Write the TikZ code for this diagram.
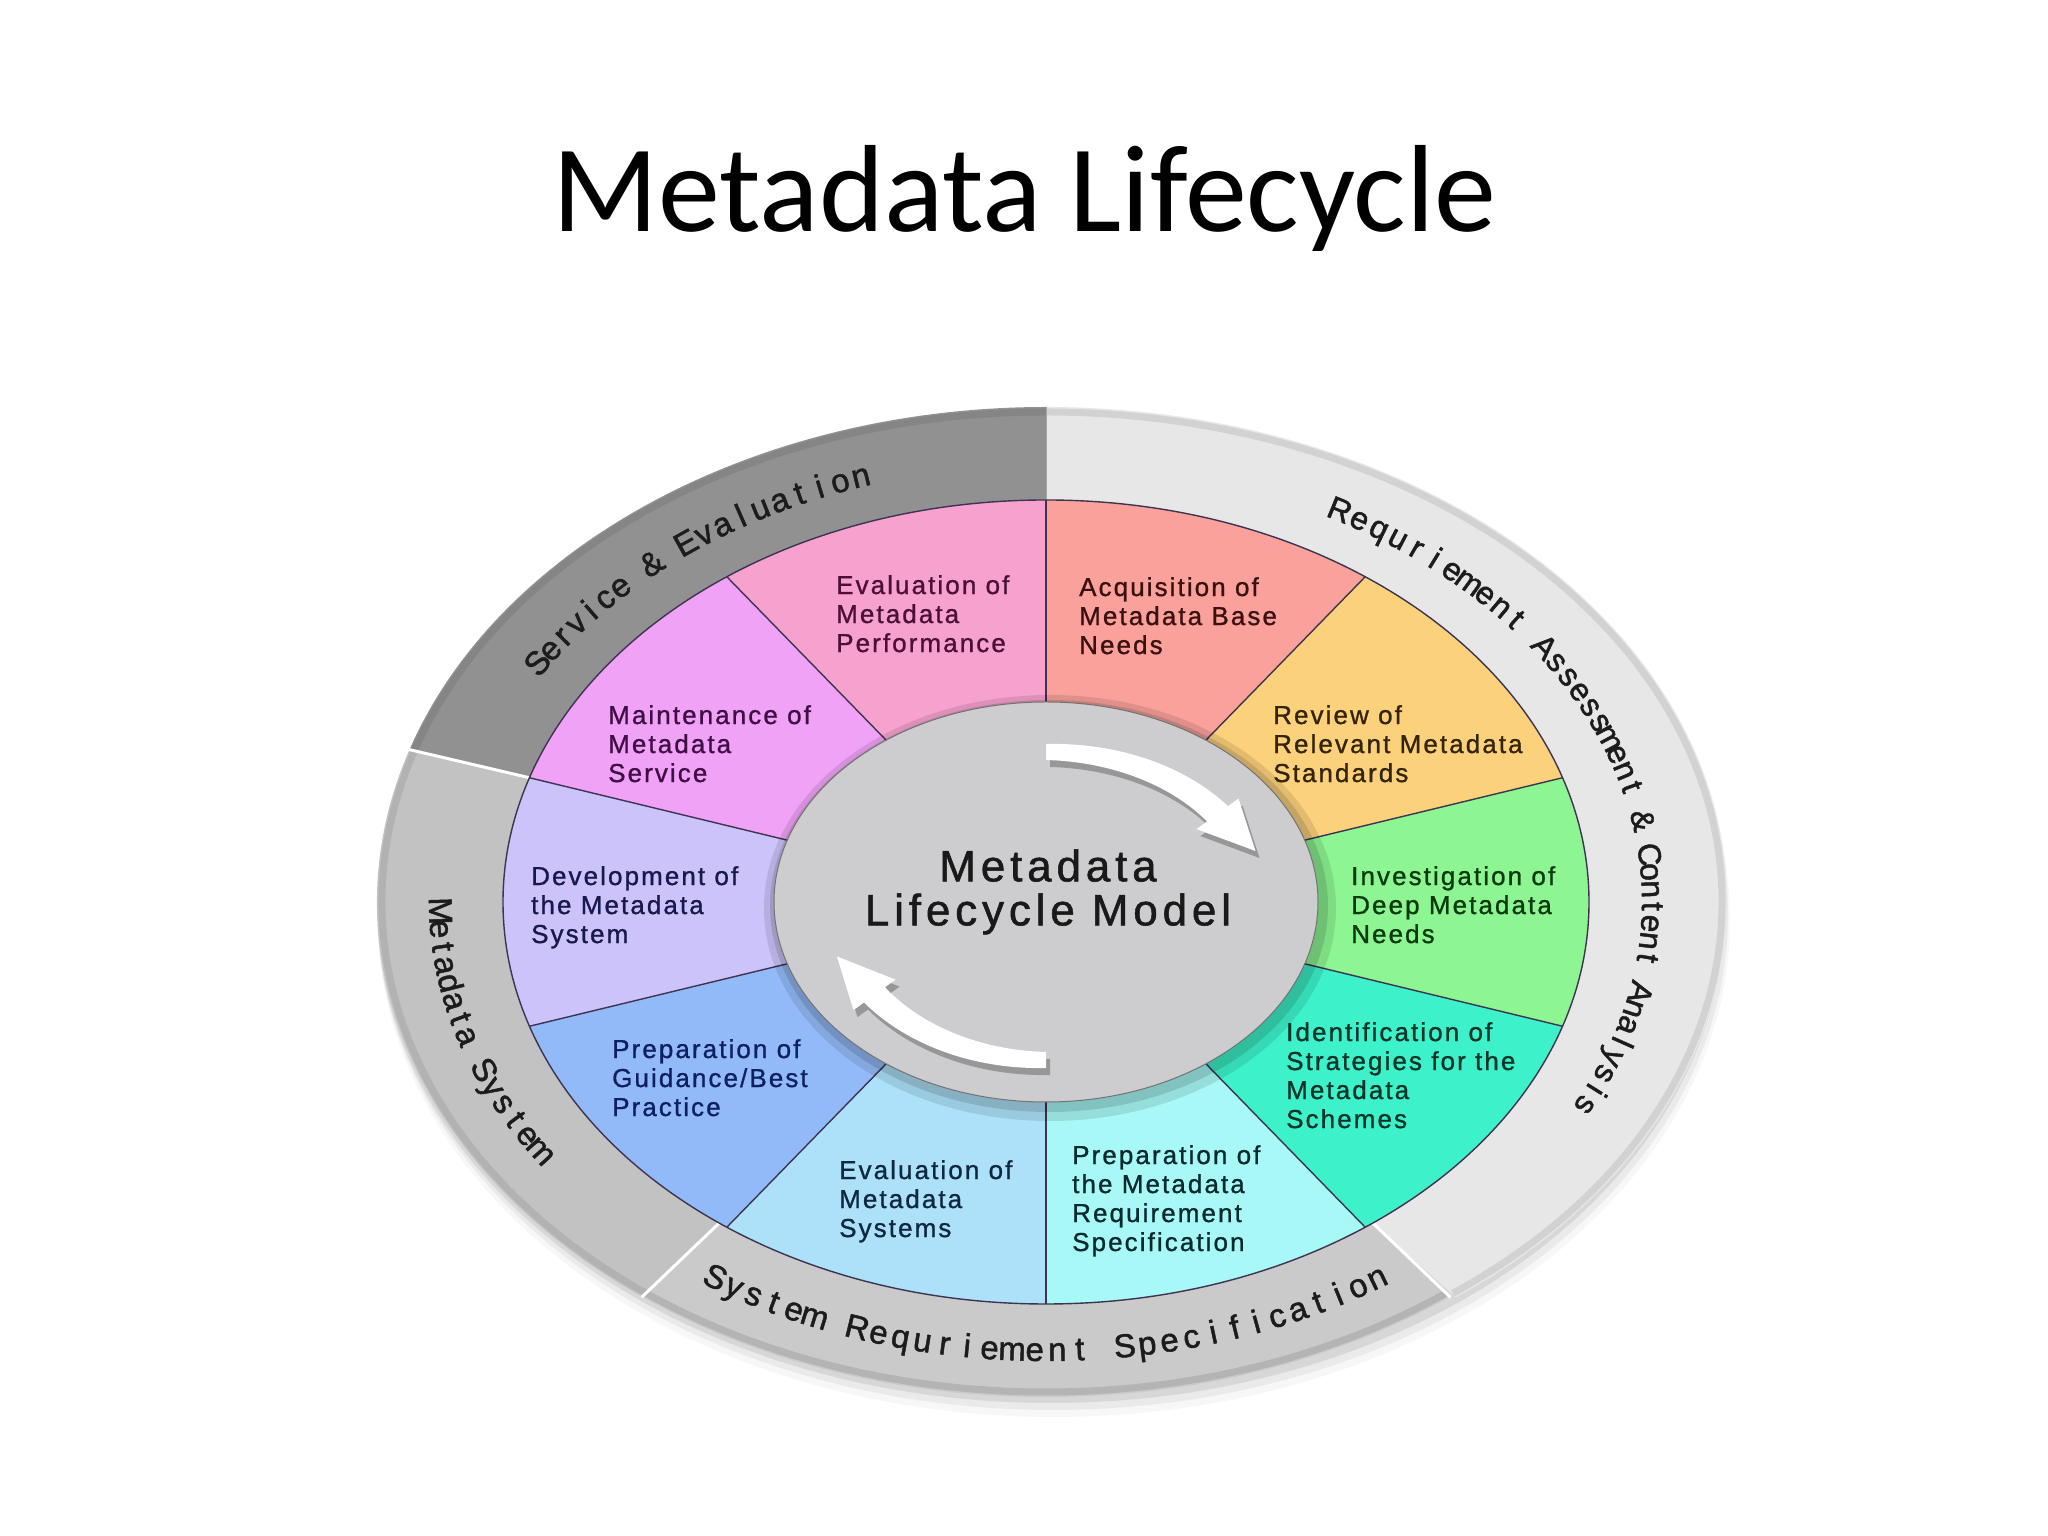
\documentclass[tikz,border=0pt]{standalone}
\usepackage{fontspec}
\setmainfont{Liberation Sans}
\newfontfamily\titlefont{Carlito}
\newfontfamily\segfont[LetterSpace=8, FakeBold=1]{Liberation Sans}
\newfontfamily\modelfont[LetterSpace=11, FakeBold=1.2]{Liberation Sans}
\newfontfamily\ringfam[FakeBold=1.5]{Liberation Sans}

\definecolor{cEP}{HTML}{F7A1CE}
\definecolor{cAQ}{HTML}{F9A19A}
\definecolor{cRV}{HTML}{FCD17C}
\definecolor{cIN}{HTML}{8DF591}
\definecolor{cID}{HTML}{3DF2CA}
\definecolor{cPS}{HTML}{A7F8F6}
\definecolor{cES}{HTML}{ACE1F9}
\definecolor{cPG}{HTML}{93BAF8}
\definecolor{cDV}{HTML}{CBC3F9}
\definecolor{cMT}{HTML}{F0A2F6}
\definecolor{tEP}{HTML}{4A1038}
\definecolor{tAQ}{HTML}{3A1010}
\definecolor{tRV}{HTML}{33240A}
\definecolor{tIN}{HTML}{0A3A0E}
\definecolor{tID}{HTML}{083428}
\definecolor{tPS}{HTML}{0A2A2E}
\definecolor{tES}{HTML}{0E2840}
\definecolor{tPG}{HTML}{0E2060}
\definecolor{tDV}{HTML}{181850}
\definecolor{tMT}{HTML}{3E0E44}
\definecolor{rSE}{HTML}{919191}
\definecolor{rMS}{HTML}{C2C2C2}
\definecolor{rSR}{HTML}{CACACA}
\definecolor{rRA}{HTML}{E7E7E7}
\definecolor{kSE}{HTML}{858585}
\definecolor{kMS}{HTML}{B2B2B2}
\definecolor{kSR}{HTML}{B4B4B4}
\definecolor{kRA}{HTML}{D2D2D2}
\definecolor{segline}{HTML}{3C3450}
\definecolor{diskin}{HTML}{CDCDCF}
\definecolor{diskmid}{HTML}{C2C2C4}
\definecolor{diskedge}{HTML}{9C9C9E}
\definecolor{ringtext}{HTML}{1C1C1C}
\definecolor{arrowshadow}{HTML}{8A8A8A}

\pgfdeclareradialshading{diskshade}{\pgfpoint{0bp}{0bp}}{color(0bp)=(diskin); color(30bp)=(diskin); color(44bp)=(diskmid); color(49bp)=(diskedge); color(50bp)=(diskedge)}

\def\CX{1046}
\def\CY{634}

% #1 start angle, #2 end angle, #3 fill, #4 rim colour, #5 outer x radius
\newcommand{\ringseg}[5]{%
  \fill[#3] ({\CX+#5*cos(#1)},{\CY+495*sin(#1)}) arc[start angle=#1, end angle=#2, x radius=#5pt, y radius=495pt]
    -- ({\CX+543*cos(#2)},{\CY+402*sin(#2)}) arc[start angle=#2, end angle=#1, x radius=543pt, y radius=402pt] -- cycle;
  \draw[#4, line width=7pt] ({\CX+(#5-5)*cos(#1)},{\CY+490*sin(#1)}) arc[start angle=#1, end angle=#2, x radius=#5pt-5pt, y radius=490pt];
}
\newcommand{\toparrow}{plot[domain=90:36, samples=40] ({\CX+(212+8+5*(90-\x)/54)*cos(\x)},{\CY+(150+8+5*(90-\x)/54)*sin(\x)})
  -- ({\CX+238*cos(36)},{\CY+176*sin(36)}) -- (1255.5,685.0) -- ({\CX+186*cos(36)},{\CY+124*sin(36)})
  -- plot[domain=36:90, samples=40] ({\CX+(212-8-5*(90-\x)/54)*cos(\x)},{\CY+(150-8-5*(90-\x)/54)*sin(\x)}) -- cycle}
\newcommand{\botarrow}{plot[domain=270:216, samples=40] ({\CX+(212+8+5*(270-\x)/54)*cos(\x)},{\CY+(158+8+5*(270-\x)/54)*sin(\x)})
  -- ({\CX+238*cos(216)},{\CY+184*sin(216)}) -- (837.0,579.5) -- ({\CX+186*cos(216)},{\CY+132*sin(216)})
  -- plot[domain=216:270, samples=40] ({\CX+(212-8-5*(270-\x)/54)*cos(\x)},{\CY+(158-8-5*(270-\x)/54)*sin(\x)}) -- cycle}

% characters placed one by one along an elliptic arc
\newlength{\rtw}
\def\rtsize{33}
\newcommand{\ringsel}{\ringfam\fontsize{\rtsize}{38}\selectfont}
\newcommand{\ringtext}[6]{% #1 rx, #2 ry, #3 t0, #4 t1, #5 arc length, #6 characters
  \xdef\rtW{0}\xdef\rtN{0}%
  \foreach \ch in {#6}{%
    \settowidth{\rtw}{\ringsel\ch}%
    \pgfmathparse{\rtW+\rtw}\xdef\rtW{\pgfmathresult}%
    \pgfmathparse{\rtN+1}\xdef\rtN{\pgfmathresult}%
  }%
  \pgfmathparse{(#5-\rtW)/\rtN}\xdef\rtE{\pgfmathresult}%
  \xdef\rtC{0}%
  \foreach \ch [count=\k] in {#6}{%
    \settowidth{\rtw}{\ringsel\ch}%
    \pgfmathparse{(\rtC+\rtw/2+\rtE*(\k-0.5))/#5}\let\rtF\pgfmathresult
    \pgfmathparse{#3+\rtF*(#4-#3)}\let\rtT\pgfmathresult
    \pgfmathparse{atan2(#2*cos(\rtT),-#1*sin(\rtT))+((#4)<(#3))*180}\let\rtR\pgfmathresult
    \node[ringchar, rotate=\rtR] at ({\CX+#1*cos(\rtT)},{\CY+#2*sin(\rtT)}) {\ch};
    \pgfmathparse{\rtC+\rtw}\xdef\rtC{\pgfmathresult}%
  }%
}

\tikzset{
  seglabel/.style={anchor=north west, align=left, inner sep=0pt, font=\segfont\fontsize{26}{29}\selectfont},
  ringchar/.style={anchor=base, inner sep=0pt, text=ringtext, font=\ringsel},
}

\begin{document}
\begin{tikzpicture}[x=1pt, y=1pt]
\useasboundingbox[fill=white] (0,0) rectangle (2048,1536);

% soft shadow under the wheel
\fill[black, opacity=0.03] (\CX+8,\CY-18) ellipse [x radius=676pt, y radius=497pt];
\fill[black, opacity=0.05] (\CX+7,\CY-12) ellipse [x radius=675pt, y radius=496pt];
\fill[black, opacity=0.08] (\CX+5,\CY-6) ellipse [x radius=674pt, y radius=495pt];

% outer ring
\ringseg{90}{162}{rSE}{kSE}{669}
\ringseg{162}{233}{rMS}{kMS}{669}
\ringseg{233}{307}{rSR}{kSR}{669}
\ringseg{-53}{90}{rRA}{kRA}{681}
\foreach \t in {162,233,-53}
  \draw[white, line width=3pt] ({\CX+543*cos(\t)},{\CY+402*sin(\t)}) -- ({\CX+672*cos(\t)},{\CY+495*sin(\t)});
\draw[gray!70, line width=1pt] ({\CX+543*cos(90)},{\CY+402*sin(90)}) -- ({\CX+669*cos(90)},{\CY+495*sin(90)});

% coloured segments
\foreach \a/\c in {90/cEP, 54/cAQ, 18/cRV, -18/cIN, -54/cID, -90/cPS, -126/cES, -162/cPG, 162/cDV, 126/cMT}{
  \pgfmathsetmacro{\b}{\a+36}
  \fill[\c] ({\CX+543*cos(\a)},{\CY+402*sin(\a)}) arc[start angle=\a, end angle=\b, x radius=543pt, y radius=402pt]
    -- ({\CX+272*cos(\b)},{\CY+200*sin(\b)}) arc[start angle=\b, end angle=\a, x radius=272pt, y radius=200pt] -- cycle;
}
\foreach \a in {90,54,18,-18,-54,-90,-126,-162,162,126}
  \draw[segline, line width=1.4pt] ({\CX+272*cos(\a)},{\CY+200*sin(\a)}) -- ({\CX+543*cos(\a)},{\CY+402*sin(\a)});
\draw[segline, line width=1.4pt] (\CX,\CY) ellipse [x radius=543pt, y radius=402pt];

% centre disk
\fill[black, opacity=0.10] (\CX+4,\CY-6) ellipse [x radius=286pt, y radius=213pt];
\fill[black, opacity=0.12] (\CX+3,\CY-4) ellipse [x radius=279pt, y radius=206pt];
\shade[shading=diskshade] (\CX,\CY) ellipse [x radius=272pt, y radius=200pt];
\draw[black!55, line width=1pt] (\CX,\CY) ellipse [x radius=272pt, y radius=200pt];

% arrows
\begin{scope}[shift={(4,-7)}]
  \fill[arrowshadow, opacity=0.8] \toparrow;
  \fill[arrowshadow, opacity=0.8] \botarrow;
\end{scope}
\fill[white] \toparrow;
\fill[white] \botarrow;

% title
\node[font=\titlefont\fontsize{124}{130}\selectfont, anchor=base, inner sep=0pt] (title) at (1024.5,1304) {Metadata Lifecycle};

% centre text
\node[font=\modelfont\fontsize{44}{44}\selectfont, align=center, text=black!90, inner sep=0pt] (model) at (1048,644) {Metadata\\Lifecycle Model};

% segment labels
\node[seglabel, text=tEP] (evalperf) at (836,961) {Evaluation of\\Metadata\\Performance};
\node[seglabel, text=tAQ] (acq) at (1079,959) {Acquisition of\\Metadata Base\\Needs};
\node[seglabel, text=tRV] (review) at (1273,831) {Review of\\Relevant Metadata\\Standards};
\node[seglabel, text=tMT] (maint) at (608,831) {Maintenance of\\Metadata\\Service};
\node[seglabel, text=tDV] (devel) at (531,670) {Development of\\the Metadata\\System};
\node[seglabel, text=tIN] (invest) at (1351,670) {Investigation of\\Deep Metadata\\Needs};
\node[seglabel, text=tID] (ident) at (1286,514) {Identification of\\Strategies for the\\Metadata\\Schemes};
\node[seglabel, text=tPG] (guide) at (612,497) {Preparation of\\Guidance/Best\\Practice};
\node[seglabel, text=tES] (evalsys) at (839,376) {Evaluation of\\Metadata\\Systems};
\node[seglabel, text=tPS] (prepspec) at (1072,391) {Preparation of\\the Metadata\\Requirement\\Specification};

% ring labels
\ringtext{590}{437}{149}{107}{394}{S,e,r,v,i,c,e,~,\&,~,E,v,a,l,u,a,t,i,o,n}
\def\rtsize{32}
\ringtext{596}{437}{62}{-28}{760}{R,e,q,u,r,i,e,m,e,n,t,~,A,s,s,e,s,s,m,e,n,t,~,\&,~,C,o,n,t,e,n,t,~,A,n,a,l,y,s,i,s}
\def\rtsize{33}
\ringtext{617}{459}{180}{215}{293}{M,e,t,a,d,a,t,a,~,S,y,s,t,e,m}
\ringtext{617}{459}{236}{304}{712}{S,y,s,t,e,m,~,R,e,q,u,r,i,e,m,e,n,t,~,S,p,e,c,i,f,i,c,a,t,i,o,n}
\end{tikzpicture}
\end{document}
